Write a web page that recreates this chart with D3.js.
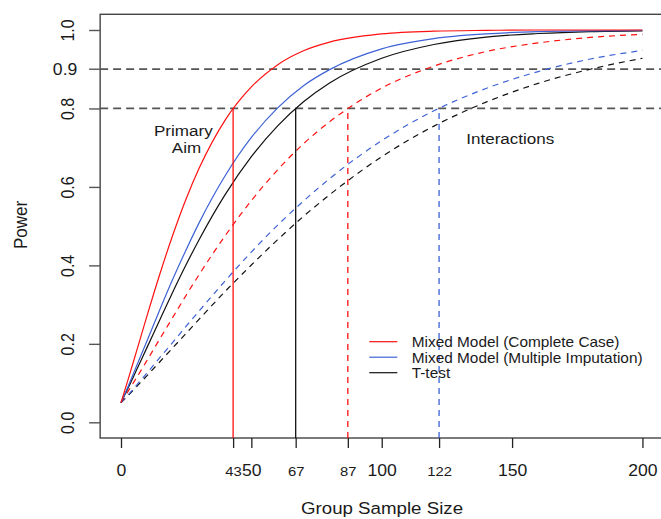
<!DOCTYPE html>
<html>
<head>
<meta charset="utf-8">
<script src="https://cdn.jsdelivr.net/npm/d3@7"></script>
<style>
  html, body { margin: 0; padding: 0; background: #fff; }
  svg { display: block; }
  text { font-family: "Liberation Sans", Arial, sans-serif; fill: #1a1a1a; }
</style>
</head>
<body>
<svg id="chart" width="661" height="519"></svg>
<script>
// ---------------- data ----------------
const sampleSizes = [0, 3, 6, 10, 15, 20, 25, 30, 40, 50, 60, 70, 80, 100, 120, 140, 160, 180, 200];
// Primary aim (solid)
const mixedCompletePrimary = [0.05, 0.115, 0.182, 0.272, 0.380, 0.480, 0.570, 0.648, 0.771, 0.855, 0.911, 0.947, 0.969, 0.990, 0.997, 0.999, 1.000, 1.000, 1.000];
const mixedImputePrimary   = [0.05, 0.096, 0.144, 0.208, 0.289, 0.367, 0.440, 0.509, 0.629, 0.726, 0.801, 0.858, 0.899, 0.952, 0.978, 0.990, 0.996, 0.998, 0.999];
const tTestPrimary         = [0.05, 0.091, 0.134, 0.191, 0.263, 0.334, 0.402, 0.466, 0.581, 0.677, 0.755, 0.817, 0.865, 0.928, 0.963, 0.982, 0.991, 0.996, 0.998];
// Interactions (dashed)
const mixedCompleteInter   = [0.05, 0.082, 0.114, 0.158, 0.214, 0.269, 0.324, 0.377, 0.476, 0.565, 0.643, 0.710, 0.766, 0.852, 0.908, 0.945, 0.967, 0.981, 0.989];
const mixedImputeInter     = [0.05, 0.072, 0.095, 0.126, 0.166, 0.205, 0.245, 0.284, 0.361, 0.434, 0.502, 0.564, 0.621, 0.718, 0.794, 0.851, 0.894, 0.926, 0.948];
const tTestInter           = [0.05, 0.070, 0.091, 0.119, 0.155, 0.191, 0.227, 0.263, 0.334, 0.401, 0.465, 0.525, 0.580, 0.677, 0.755, 0.816, 0.864, 0.900, 0.928];

const xTicksMajor = [0, 50, 100, 150, 200];
const xTicksRequired = [43, 67, 87, 122];
const yTicks = [0, 0.2, 0.4, 0.6, 0.8, 1.0];
const yTickLabels = ["0.0", "0.2", "0.4", "0.6", "0.8", "1.0"];
const targetPowers = [0.9, 0.8];
const requiredN = [43, 67, 87, 122];
const requiredPower = 0.8;
const legendLabels = ["Mixed Model (Complete Case)", "Mixed Model (Multiple Imputation)", "T-test"];
const xTitle = "Group Sample Size";
const yTitle = "Power";

// ---------------- styles ----------------
const RED = "#ff1010", BLUE = "#3d62d6", BLACK = "#111";
const SX = 1.1; // horizontal stretch seen in reference text

const svg = d3.select("#chart");
svg.append("rect").attr("width", 661).attr("height", 519).attr("fill", "#fff");

const x = d3.scaleLinear().domain([-8, 208]).range([100.14, 663.3]);
const y = d3.scaleLinear().domain([-0.04, 1.04]).range([438, 14.3]);

// box
svg.append("rect")
  .attr("x", x(-8)).attr("y", y(1.04))
  .attr("width", x(208) - x(-8)).attr("height", y(-0.04) - y(1.04))
  .attr("fill", "none").attr("stroke", "#444").attr("stroke-width", 1.4);

// horizontal target lines
svg.selectAll("line.target").data(targetPowers).join("line")
  .attr("class", "target")
  .attr("x1", x(-8)).attr("x2", 661)
  .attr("y1", d => y(d)).attr("y2", d => y(d))
  .attr("stroke", "#555").attr("stroke-width", 1.8).attr("stroke-dasharray", "8,5");

// curves
const line = d3.line().x((d, i) => x(sampleSizes[i])).y(d => y(d)).curve(d3.curveMonotoneX);
const series = [
  { v: tTestInter, c: BLACK, dash: "6,5" },
  { v: mixedImputeInter, c: BLUE, dash: "6,5" },
  { v: mixedCompleteInter, c: RED, dash: "6,5" },
  { v: tTestPrimary, c: BLACK, dash: null },
  { v: mixedImputePrimary, c: BLUE, dash: null },
  { v: mixedCompletePrimary, c: RED, dash: null }
];
svg.selectAll("path.curve").data(series).join("path")
  .attr("class", "curve")
  .attr("d", d => line(d.v))
  .attr("fill", "none")
  .attr("stroke", d => d.c)
  .attr("stroke-width", 1.2)
  .attr("stroke-dasharray", d => d.dash);

// vertical required-n lines
const vStyles = [
  { c: RED, dash: null }, { c: BLACK, dash: null },
  { c: RED, dash: "6,5" }, { c: BLUE, dash: "6,5" }
];
svg.selectAll("line.req").data(requiredN).join("line")
  .attr("class", "req")
  .attr("x1", d => x(d)).attr("x2", d => x(d))
  .attr("y1", y(-0.04)).attr("y2", y(requiredPower))
  .attr("stroke", (d, i) => vStyles[i].c)
  .attr("stroke-width", 1.3)
  .attr("stroke-dasharray", (d, i) => vStyles[i].dash);

// x axis
const allX = xTicksMajor.concat(xTicksRequired).sort((a, b) => a - b);
const xAxis = svg.append("g").attr("transform", `translate(0,${y(-0.04)})`)
  .call(d3.axisBottom(x).tickValues(allX).tickSize(10).tickFormat(d3.format("d")));
xAxis.select(".domain").remove();
xAxis.selectAll(".tick line").attr("stroke", "#222").attr("stroke-width", 1.3);
xAxis.selectAll(".tick text")
  .attr("y", 37.7).attr("dy", null)
  .attr("font-size", d => xTicksRequired.includes(d) ? 13.5 : 16)
  .attr("fill", "#1a1a1a")
  .attr("text-anchor", "middle")
  .attr("transform", `scale(${SX},1)`);

// y axis
const yAxis = svg.append("g").attr("transform", `translate(${x(-8)},0)`)
  .call(d3.axisLeft(y).tickValues(yTicks).tickSize(11).tickFormat((d, i) => yTickLabels[i]));
yAxis.select(".domain").remove();
yAxis.selectAll(".tick line").attr("stroke", "#555").attr("stroke-width", 1.4);
yAxis.selectAll(".tick text")
  .attr("x", null).attr("dy", null)
  .attr("font-size", 16).attr("fill", "#1a1a1a")
  .attr("text-anchor", "middle")
  .attr("transform", `translate(-26,0) scale(${SX},1) rotate(-90)`);

// extra 0.9 tick with horizontal label
svg.append("line")
  .attr("x1", x(-8) - 11).attr("x2", x(-8))
  .attr("y1", y(0.9)).attr("y2", y(0.9))
  .attr("stroke", "#555").attr("stroke-width", 1.4);
svg.append("text")
  .attr("transform", `translate(77.3,${y(0.9)}) scale(${SX},1)`)
  .attr("dy", "0.36em").attr("text-anchor", "end").attr("font-size", 16)
  .text("0.9");

// axis titles
svg.append("text")
  .attr("transform", `translate(382,514) scale(${SX},1)`)
  .attr("text-anchor", "middle").attr("font-size", 17)
  .text(xTitle);
svg.append("text")
  .attr("transform", `translate(26.5,225) scale(${SX},1) rotate(-90)`)
  .attr("text-anchor", "middle").attr("font-size", 17)
  .text(yTitle);

// annotations
svg.append("text").attr("transform", `translate(183.3,135.5) scale(${SX},1)`)
  .attr("text-anchor", "middle").attr("font-size", 15.5).text("Primary");
svg.append("text").attr("transform", `translate(186.5,152.5) scale(${SX},1)`)
  .attr("text-anchor", "middle").attr("font-size", 15.5).text("Aim");
svg.append("text").attr("transform", `translate(510.3,144.3) scale(${SX},1)`)
  .attr("text-anchor", "middle").attr("font-size", 15.5).text("Interactions");

// legend
const legendColors = [RED, BLUE, BLACK];
const lg = svg.append("g");
legendLabels.forEach((lab, i) => {
  const by = 347.3 + i * 15.5;
  lg.append("line")
    .attr("x1", 369.3).attr("x2", 397.3)
    .attr("y1", by - 5.6).attr("y2", by - 5.6)
    .attr("stroke", legendColors[i]).attr("stroke-width", 1.2);
  lg.append("text")
    .attr("transform", `translate(411.7,${by}) scale(${SX},1)`)
    .attr("font-size", 14).text(lab);
});
</script>
</body>
</html>
